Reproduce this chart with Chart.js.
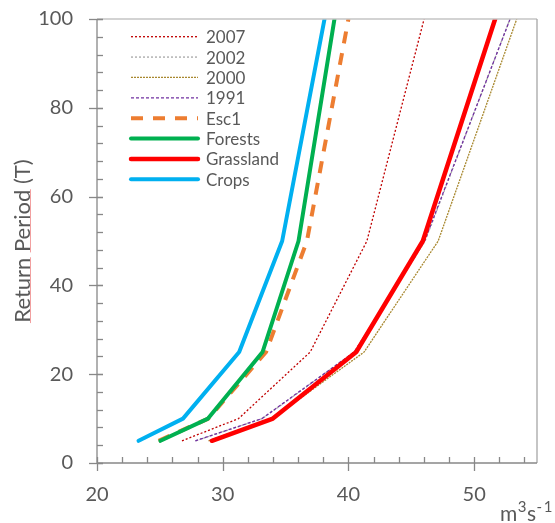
<!DOCTYPE html>
<html>
<head>
<meta charset="utf-8">
<script src="https://cdn.jsdelivr.net/npm/chart.js@4"></script>
<style>
    html, body { margin: 0; padding: 0; background: #ffffff; }
    #wrap { width: 555px; height: 523px; }
</style>
</head>
<body>
<div id="wrap"><canvas id="returnChart" width="555" height="523"></canvas></div>
<script>
// return periods (T) on the y axis
const returnPeriods = [5, 10, 25, 50, 100];

// discharge (m3/s) per series, one value per return period
const flow2007 = [26.76, 31.26, 36.96, 41.47, 46.02];
const flow2002 = [27.85, 33.15, 40.5, 46.1, 52.85];
const flow2000 = [28.87, 33.95, 41.25, 47.14, 53.39];
const flow1991 = [27.82, 33.12, 40.46, 46.06, 52.86];
const flowEsc1 = [24.9, 28.85, 33.45, 36.7, 40.0];
const flowForests = [25.05, 28.83, 33.17, 36.03, 38.89];
const flowGrassland = [29.14, 33.99, 40.62, 45.92, 51.67];
const flowCrops = [23.31, 26.84, 31.31, 34.73, 38.1];

const xTickLabels = [20, 30, 40, 50];
const yTickLabels = [0, 20, 40, 60, 80, 100];

const textColor = "#595959";
const fontName = "Lato, 'Open Sans', sans-serif";

function pairs(values) {
    return values.map((v, i) => ({ x: v, y: returnPeriods[i] }));
}

function series(label, values, color, width, dash, order) {
    return {
        label,
        data: pairs(values),
        borderColor: color,
        backgroundColor: color,
        borderWidth: width,
        borderDash: dash,
        borderCapStyle: dash.length ? "butt" : "round",
        borderJoinStyle: "round",
        pointRadius: 0,
        showLine: true,
        order
    };
}

const datasets = [
    series("2007", flow2007, "#C00000", 1.3, [2, 2], 5),
    series("2002", flow2002, "#A5A5A5", 1.3, [2, 2], 6),
    series("2000", flow2000, "#A8882F", 1.3, [2, 1], 5),
    series("1991", flow1991, "#7030A0", 1.3, [3, 2], 4),
    series("Esc1", flowEsc1, "#ED7D31", 4, [12, 10], 3),
    series("Forests", flowForests, "#00B050", 4, [], 1),
    series("Grassland", flowGrassland, "#FF0000", 4.5, [], 1),
    series("Crops", flowCrops, "#00B0F0", 4, [], 1)
];

// axes frame, tick marks, legend and titles
const decorPlugin = {
    id: "decor",
    afterDraw(chart) {
        const ctx = chart.ctx;
        const area = chart.chartArea;
        const xs = chart.scales.x;
        const ys = chart.scales.y;
        ctx.save();

        // top / right frame
        ctx.lineWidth = 1.3;
        ctx.strokeStyle = "#c4c4c4";
        ctx.beginPath();
        ctx.moveTo(area.left, area.top);
        ctx.lineTo(area.right, area.top);
        ctx.stroke();
        ctx.strokeStyle = "#a6a6a6";
        ctx.beginPath();
        ctx.moveTo(area.right, area.top);
        ctx.lineTo(area.right, area.bottom);
        ctx.stroke();

        // axes
        ctx.strokeStyle = "#888888";
        ctx.beginPath();
        ctx.moveTo(area.left, area.top);
        ctx.lineTo(area.left, area.bottom);
        ctx.lineTo(area.right, area.bottom);
        ctx.stroke();

        // y ticks
        for (let v = 0; v <= 100; v += 4) {
            const py = Math.round(ys.getPixelForValue(v)) + 0.5;
            ctx.beginPath();
            ctx.moveTo(area.left, py);
            ctx.lineTo(area.left + 6, py);
            ctx.stroke();
        }
        for (const v of yTickLabels) {
            const py = Math.round(ys.getPixelForValue(v)) + 0.5;
            ctx.beginPath();
            ctx.moveTo(area.left - 8, py);
            ctx.lineTo(area.left + 6, py);
            ctx.stroke();
        }

        // x ticks
        for (let v = 20; v <= 54; v += 2) {
            const px = Math.round(xs.getPixelForValue(v)) + 0.5;
            ctx.beginPath();
            if (v % 10 === 0) {
                ctx.moveTo(px, area.bottom - 6);
                ctx.lineTo(px, area.bottom + 8);
            } else {
                ctx.moveTo(px, area.bottom - 6);
                ctx.lineTo(px, area.bottom);
            }
            ctx.stroke();
        }

        // legend inside plot
        const rowY0 = 36.7;
        const rowStep = 20.37;
        ctx.font = "17px " + fontName;
        ctx.textBaseline = "middle";
        ctx.textAlign = "left";
        chart.data.datasets.forEach((ds, i) => {
            const y = rowY0 + i * rowStep;
            ctx.strokeStyle = ds.borderColor;
            ctx.lineWidth = ds.borderWidth;
            ctx.setLineDash(ds.borderDash);
            ctx.lineCap = ds.borderDash.length ? "butt" : "round";
            ctx.beginPath();
            ctx.moveTo(131, y);
            ctx.lineTo(198, y);
            ctx.stroke();
            ctx.setLineDash([]);
            ctx.fillStyle = textColor;
            ctx.fillText(ds.label, 206, y + 1);
        });

        // y title, rotated, with spell-check underline
        ctx.save();
        ctx.translate(23, (area.top + area.bottom) / 2);
        ctx.rotate(-Math.PI / 2);
        ctx.font = "22px " + fontName;
        ctx.fillStyle = textColor;
        ctx.textAlign = "left";
        ctx.textBaseline = "middle";
        const title = "Return Period (T)";
        const w = ctx.measureText(title).width;
        const x0 = -w / 2;
        ctx.fillText(title, x0, 0);
        const wReturn = ctx.measureText("Return").width;
        const wSpace = ctx.measureText("Return ").width;
        const wPeriod = ctx.measureText("Period").width;
        ctx.strokeStyle = "#f2a0a0";
        ctx.lineWidth = 1;
        ctx.beginPath();
        ctx.moveTo(x0, 7.5);
        ctx.lineTo(x0 + wReturn, 7.5);
        ctx.moveTo(x0 + wSpace, 7.5);
        ctx.lineTo(x0 + wSpace + wPeriod, 7.5);
        ctx.stroke();
        ctx.restore();

        // unit label m3s-1
        ctx.fillStyle = textColor;
        ctx.textBaseline = "alphabetic";
        ctx.textAlign = "left";
        let ux = 500;
        const uy = 521;
        ctx.font = "21px " + fontName;
        ctx.fillText("m", ux, uy);
        ux += ctx.measureText("m").width + 0.5;
        ctx.font = "15px " + fontName;
        ctx.fillText("3", ux, uy - 9);
        ux += ctx.measureText("3").width + 0.5;
        ctx.font = "21px " + fontName;
        ctx.fillText("s", ux, uy);
        ux += ctx.measureText("s").width + 0.5;
        ctx.font = "15px " + fontName;
        ctx.fillText("-", ux, uy - 9);
        ux += ctx.measureText("-").width + 1.5;
        ctx.fillText("1", ux, uy - 9);

        ctx.restore();
    }
};

new Chart(document.getElementById("returnChart"), {
    type: "scatter",
    data: { datasets },
    options: {
        responsive: false,
        animation: false,
        events: [],
        layout: { padding: { top: 19, right: 18, left: 0, bottom: 0 } },
        plugins: {
            legend: { display: false },
            tooltip: { enabled: false }
        },
        scales: {
            x: {
                type: "linear",
                min: 20,
                max: 55,
                afterFit: (scale) => {
                    scale.height = 60;
                    scale.paddingLeft = 0;
                    scale.paddingRight = 0;
                },
                afterBuildTicks: (scale) => {
                    scale.ticks = xTickLabels.map((v) => ({ value: v }));
                },
                grid: { display: false, drawTicks: false },
                border: { display: false },
                ticks: {
                    color: textColor,
                    font: { family: fontName, size: 20 },
                    padding: 20,
                    maxRotation: 0,
                    autoSkip: false
                }
            },
            y: {
                type: "linear",
                min: 0,
                max: 100,
                afterFit: (scale) => {
                    scale.width = 97;
                    scale.paddingTop = 0;
                    scale.paddingBottom = 0;
                },
                afterBuildTicks: (scale) => {
                    scale.ticks = yTickLabels.map((v) => ({ value: v }));
                },
                grid: { display: false, drawTicks: false },
                border: { display: false },
                ticks: {
                    color: textColor,
                    font: { family: fontName, size: 20 },
                    padding: 24,
                    autoSkip: false
                }
            }
        }
    },
    plugins: [decorPlugin]
});
</script>
</body>
</html>
